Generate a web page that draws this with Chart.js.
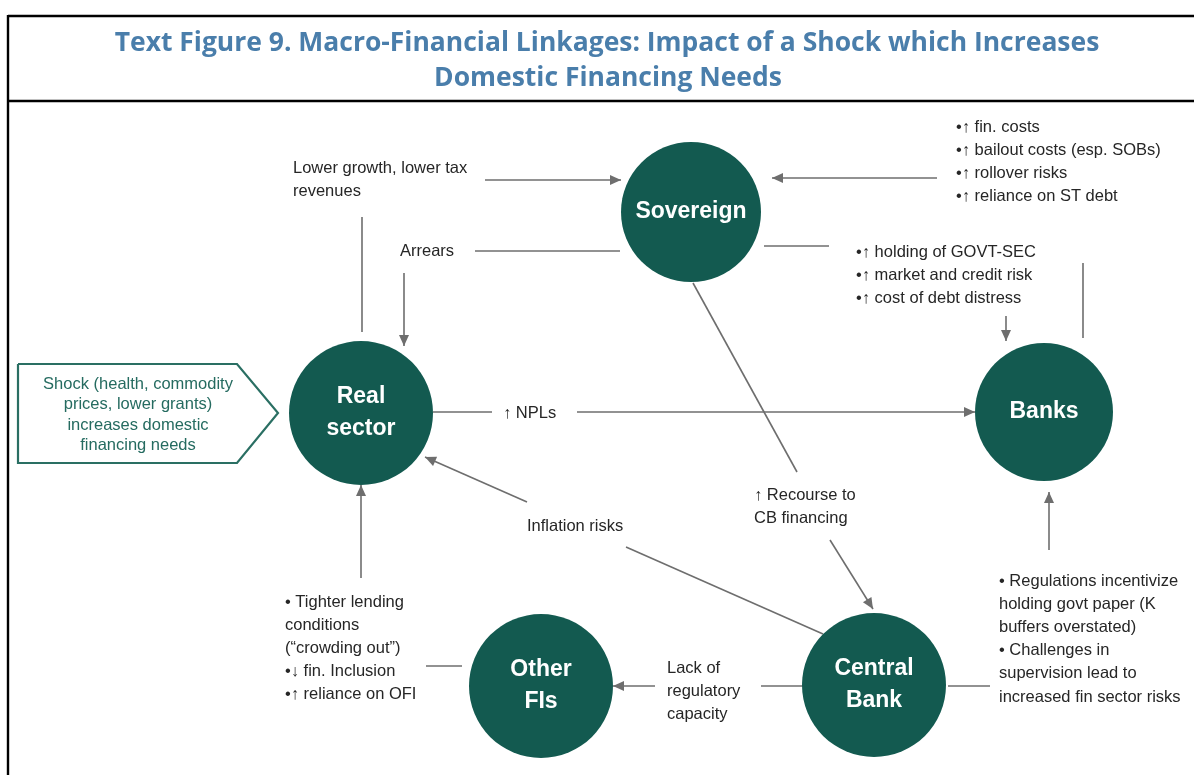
<!DOCTYPE html>
<html>
<head>
<meta charset="utf-8">
<script src="https://cdn.jsdelivr.net/npm/chart.js@4.4.1/dist/chart.umd.min.js"></script>
<style>
  html, body { margin: 0; padding: 0; background: #ffffff; }
  #wrap { width: 1194px; height: 775px; position: relative; }
</style>
</head>
<body>
<div id="wrap"><canvas id="c"></canvas></div>
<script>
// ---------- DATA ----------
const titleLines = [
  'Text Figure 9. Macro-Financial Linkages: Impact of a Shock which Increases',
  'Domestic Financing Needs'
];

// nodes of the diagram
const nodeLabels = [['Sovereign'], ['Real', 'sector'], ['Banks'], ['Central', 'Bank'], ['Other', 'FIs']];
const nodeX = [691, 361, 1044, 874, 541];
const nodeY = [212, 413, 412, 685, 686];
const nodeR = [70, 72, 69, 72, 72];

// links: x1, y1, x2, y2, arrowhead at end
const linkFromX = [485, 362, 475, 404, 937, 764, 1006, 1083, 433, 577, 693, 830, 527, 626, 361, 426, 655, 761, 948, 1049];
const linkFromY = [180, 217, 251, 273, 178, 246, 316, 263, 412, 412, 283, 540, 502, 547, 578, 666, 686, 686, 686, 550];
const linkToX   = [621, 362, 620, 404, 772, 829, 1006, 1083, 492, 975, 797, 873, 425, 823, 361, 462, 613, 804, 990, 1049];
const linkToY   = [180, 332, 251, 346, 178, 246, 341, 338, 412, 412, 472, 609, 457, 634, 485, 666, 686, 686, 686, 492];
const linkArrow = [true, false, false, true, true, false, true, false, false, true, false, true, true, false, true, false, true, false, false, true];

// annotation texts: anchor x, first-line y, lines
const noteX = [293, 400, 956, 856, 503, 754, 527, 285, 667, 999];
const noteY = [168, 251, 127, 252, 413, 495, 526, 602, 668, 581];
const noteLines = [
  ['Lower growth, lower tax', 'revenues'],
  ['Arrears'],
  ['•↑ fin. costs', '•↑ bailout costs (esp. SOBs)', '•↑ rollover risks', '•↑ reliance on ST debt'],
  ['•↑ holding of GOVT-SEC', '•↑ market and credit risk', '•↑ cost of debt distress'],
  ['↑ NPLs'],
  ['↑ Recourse to', 'CB financing'],
  ['Inflation risks'],
  ['• Tighter lending', 'conditions', '(“crowding out”)', '•↓ fin. Inclusion', '•↑ reliance on OFI'],
  ['Lack of', 'regulatory', 'capacity'],
  ['• Regulations incentivize', 'holding govt paper (K', 'buffers overstated)', '• Challenges in', 'supervision lead to', 'increased fin sector risks']
];

// shock box (pentagon) corners
const shockX = [18, 237, 278, 237, 18];
const shockY = [364, 364, 413, 463, 463];
const shockText = ['Shock (health, commodity', 'prices, lower grants)', 'increases domestic', 'financing needs'];
const shockTextX = 138;
const shockTextY = 384;

// ---------- STYLE ----------
const GREEN = '#135a50';
const GREEN_TXT = '#256b60';
const GREY = '#6e6e6e';
const TXT = '#262626';
const TITLE = '#4a7eab';
const BODY_FONT = '16.5px "Liberation Sans", Arial, sans-serif';
const NODE_FONT = 'bold 23px "Liberation Sans", Arial, sans-serif';

// ---------- DATASETS ----------
const datasets = [];
linkFromX.forEach((_, i) => {
  datasets.push({
    type: 'scatter',
    data: [{x: linkFromX[i], y: linkFromY[i]}, {x: linkToX[i], y: linkToY[i]}],
    showLine: true,
    borderColor: GREY,
    borderWidth: 1.6,
    pointRadius: 0,
    arrow: linkArrow[i],
    order: 2
  });
});
// shock box outline
datasets.push({
  type: 'scatter',
  data: shockX.map((x, i) => ({x, y: shockY[i]})).concat([{x: shockX[0], y: shockY[0]}]),
  showLine: true,
  borderColor: '#2a6f63',
  borderWidth: 2.2,
  pointRadius: 0,
  backgroundColor: 'rgba(0,0,0,0)',
  order: 2
});
// nodes
datasets.push({
  type: 'scatter',
  data: nodeX.map((x, i) => ({x, y: nodeY[i]})),
  pointRadius: nodeR,
  pointBackgroundColor: GREEN,
  pointBorderColor: GREEN,
  pointBorderWidth: 0,
  pointHoverRadius: nodeR,
  clip: false,
  order: 1
});

// ---------- PLUGIN ----------
const diagramPlugin = {
  id: 'diagram',
  beforeDatasetsDraw(chart) {
    const ctx = chart.ctx;
    ctx.save();
    ctx.strokeStyle = '#000';
    ctx.lineWidth = 2.4;
    ctx.beginPath();
    ctx.moveTo(8, 16); ctx.lineTo(1194, 16);
    ctx.moveTo(8, 15); ctx.lineTo(8, 775);
    ctx.moveTo(8, 101); ctx.lineTo(1194, 101);
    ctx.stroke();
    // title
    ctx.fillStyle = TITLE;
    ctx.textAlign = 'center';
    ctx.textBaseline = 'middle';
    let size = 25;
    ctx.font = `bold ${size}px "Open Sans", "Noto Sans", sans-serif`;
    const w = ctx.measureText(titleLines[0]).width;
    size = size * 985 / w;
    ctx.font = `bold ${size}px "Open Sans", "Noto Sans", sans-serif`;
    ctx.fillText(titleLines[0], 607, 43);
    ctx.fillText(titleLines[1], 608, 78);
    ctx.restore();
  },
  afterDatasetsDraw(chart) {
    const ctx = chart.ctx;
    const xs = chart.scales.x, ys = chart.scales.y;
    ctx.save();
    // arrowheads
    chart.data.datasets.forEach(ds => {
      if (!ds.arrow) return;
      const a = ds.data[0], b = ds.data[ds.data.length - 1];
      const x1 = xs.getPixelForValue(a.x), y1 = ys.getPixelForValue(a.y);
      const x2 = xs.getPixelForValue(b.x), y2 = ys.getPixelForValue(b.y);
      const ang = Math.atan2(y2 - y1, x2 - x1);
      const L = 11, W = 5;
      ctx.fillStyle = GREY;
      ctx.beginPath();
      ctx.moveTo(x2, y2);
      ctx.lineTo(x2 - L * Math.cos(ang) + W * Math.sin(ang), y2 - L * Math.sin(ang) - W * Math.cos(ang));
      ctx.lineTo(x2 - L * Math.cos(ang) - W * Math.sin(ang), y2 - L * Math.sin(ang) + W * Math.cos(ang));
      ctx.closePath();
      ctx.fill();
    });
    // node labels
    ctx.fillStyle = '#ffffff';
    ctx.font = NODE_FONT;
    ctx.textAlign = 'center';
    ctx.textBaseline = 'middle';
    nodeLabels.forEach((lines, i) => {
      const cx = xs.getPixelForValue(nodeX[i]);
      const cy = ys.getPixelForValue(nodeY[i]);
      const lh = 32;
      const start = cy - (lines.length - 1) * lh / 2;
      lines.forEach((t, j) => ctx.fillText(t, cx, start + j * lh));
    });
    // notes
    ctx.fillStyle = TXT;
    ctx.font = BODY_FONT;
    ctx.textAlign = 'left';
    noteLines.forEach((lines, i) => {
      const x = xs.getPixelForValue(noteX[i]);
      const y0 = ys.getPixelForValue(noteY[i]);
      lines.forEach((t, j) => ctx.fillText(t, x, y0 + j * 23.2));
    });
    // shock text
    ctx.fillStyle = GREEN_TXT;
    ctx.textAlign = 'center';
    shockText.forEach((t, j) => ctx.fillText(t, xs.getPixelForValue(shockTextX), ys.getPixelForValue(shockTextY) + j * 20.5));
    ctx.restore();
  }
};

new Chart(document.getElementById('c'), {
  type: 'scatter',
  data: { datasets },
  options: {
    responsive: true,
    maintainAspectRatio: false,
    animation: false,
    events: [],
    layout: { padding: 0, autoPadding: false },
    plugins: { legend: { display: false }, tooltip: { enabled: false }, title: { display: false } },
    scales: {
      x: { type: 'linear', min: 0, max: 1194, display: false },
      y: { type: 'linear', min: 0, max: 775, reverse: true, display: false }
    }
  },
  plugins: [diagramPlugin]
});
</script>
</body>
</html>
